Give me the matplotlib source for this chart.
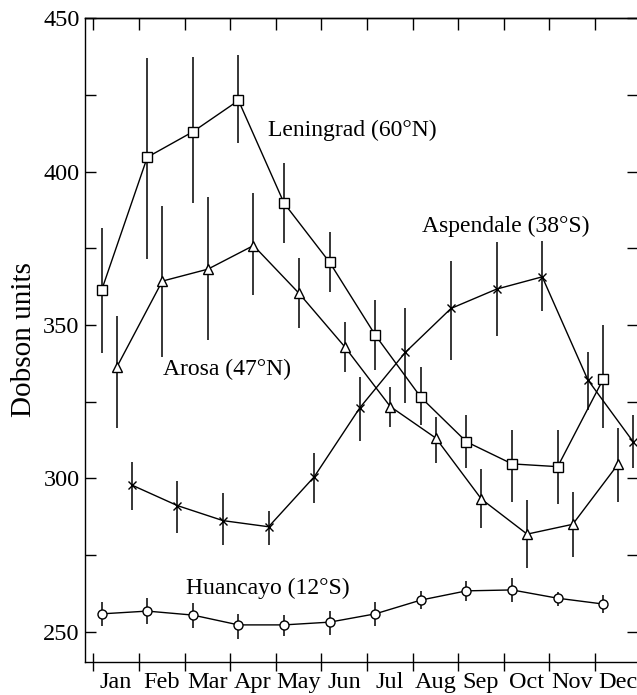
import numpy as np
import matplotlib
matplotlib.use("Agg")
import matplotlib.pyplot as plt

plt.rcParams["font.family"] = ["Liberation Serif", "DejaVu Serif"]

months = ["Jan", "Feb", "Mar", "Apr", "May", "Jun",
          "Jul", "Aug", "Sep", "Oct", "Nov", "Dec"]

# monthly means and the ends of the error bars (Dobson units)
leningrad = [361.4, 404.7, 413.0, 423.2, 389.7, 370.4, 346.7, 326.4, 311.9, 304.7, 303.8, 332.4]
leningrad_lo = [340.8, 371.4, 389.9, 409.2, 376.6, 360.9, 335.3, 317.4, 303.3, 292.4, 291.5, 316.3]
leningrad_hi = [381.5, 437.0, 437.5, 438.0, 402.7, 380.2, 358.2, 336.4, 320.7, 315.8, 315.8, 350.0]

arosa = [336.2, 364.3, 368.2, 375.9, 360.3, 342.9, 323.4, 313.1, 293.2, 281.8, 285.0, 304.7]
arosa_lo = [316.3, 339.7, 345.1, 359.8, 348.9, 334.8, 316.8, 304.9, 283.7, 270.7, 274.3, 292.4]
arosa_hi = [352.9, 388.8, 391.8, 392.9, 371.7, 351.1, 329.9, 319.9, 303.0, 292.9, 295.6, 316.3]

aspendale = [297.8, 291.1, 286.2, 284.2, 300.5, 323.0, 341.1, 355.4, 361.7, 365.7, 332.1, 311.8]
aspendale_lo = [289.7, 282.1, 278.3, 278.3, 291.9, 312.3, 324.5, 338.6, 346.4, 354.6, 322.3, 303.3]
aspendale_hi = [305.4, 299.2, 295.3, 289.4, 308.4, 333.1, 355.4, 371.0, 377.2, 377.5, 341.1, 320.7]

huancayo = [255.8, 256.7, 255.4, 252.2, 252.2, 253.1, 255.8, 260.3, 263.3, 263.6, 260.9, 259.0]
huancayo_lo = [251.9, 252.5, 251.1, 247.5, 248.6, 248.9, 251.9, 257.4, 260.1, 259.8, 258.4, 256.2]
huancayo_hi = [259.8, 260.9, 259.5, 255.8, 255.4, 256.8, 259.8, 263.3, 266.5, 267.5, 263.0, 262.0]

fig = plt.figure(figsize=(6.37, 6.95), dpi=100)
ax = fig.add_axes([85 / 637, 33.3 / 695, (638 - 85) / 637, (661.7 - 18.3) / 695])

m = np.arange(12)


def station(vals, lo, hi, shift, marker, size):
    vals = np.array(vals)
    yerr = [vals - np.array(lo), np.array(hi) - vals]
    ax.errorbar(m + shift, vals, yerr=yerr, fmt="-", marker=marker, color="black",
                lw=1.0, elinewidth=1.1, capsize=0, ms=size, mfc="white",
                mec="black", mew=1.0)


station(leningrad, leningrad_lo, leningrad_hi, 0.184, "s", 6.5)
station(arosa, arosa_lo, arosa_hi, 0.513, "^", 7.5)
station(aspendale, aspendale_lo, aspendale_hi, 0.845, "x", 5.5)
station(huancayo, huancayo_lo, huancayo_hi, 0.184, "o", 6.5)

fs = 17
ax.text(3.84, 411.6, "Leningrad (60°N)", fontsize=fs, va="baseline")
ax.text(7.20, 380.4, "Aspendale (38°S)", fontsize=fs, va="baseline")
ax.text(1.52, 333.7, "Arosa (47°N)", fontsize=fs, va="baseline")
ax.text(2.03, 262.2, "Huancayo (12°S)", fontsize=fs, va="baseline")

ax.set_xlim(-0.182, 11.945)
ax.set_ylim(240.2, 450)

ax.set_xticks(m)
ax.set_xticklabels([])
ax.set_xticks(m + 0.5, minor=True)
ax.set_xticklabels(months, minor=True, fontsize=17.5)
ax.tick_params(axis="x", which="major", direction="inout", length=13, width=1.0)
ax.tick_params(axis="x", which="minor", length=0, pad=7.5)

ax.set_yticks([250, 300, 350, 400, 450])
ax.set_yticks([275, 325, 375, 425], minor=True)
ax.tick_params(axis="y", which="both", direction="in", length=8, width=1.0,
               right=True, labelsize=17.5, pad=4)

top = ax.secondary_xaxis("top")
top.set_xticks(m)
top.set_xticklabels([])
top.tick_params(direction="in", length=8.5, width=1.0)

for side in ["left", "bottom", "top"]:
    ax.spines[side].set_linewidth(1.0)
top.spines["top"].set_linewidth(1.0)
ax.spines["right"].set_visible(False)

ax.set_ylabel("Dobson units", fontsize=21, labelpad=4)

fig.savefig("out.png", dpi=100)
